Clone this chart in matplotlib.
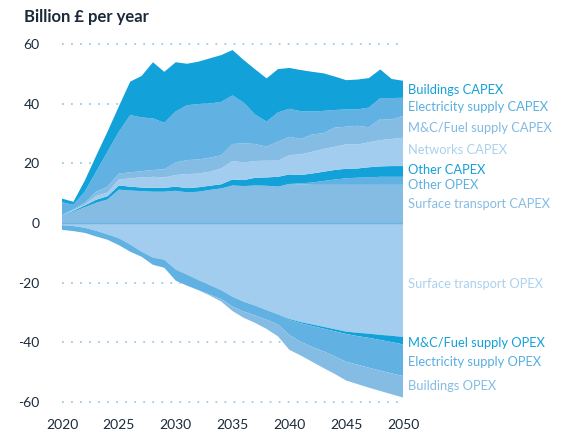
import matplotlib
matplotlib.use("Agg")
import matplotlib.pyplot as plt
import numpy as np

years = list(range(2020, 2051))

# Positive (CAPEX / some OPEX) layers, bottom to top, billion £
surface_capex = [2.7, 3.8, 5.3, 6.8, 7.9, 11.2, 10.9, 10.7, 10.5, 10.5, 10.8, 10.3, 10.5, 11.1, 11.6,
                 12.6, 12.4, 12.6, 12.5, 12.2, 13.1, 13.0, 12.8, 12.8, 12.8, 12.8, 12.8, 12.8, 12.8, 12.8, 12.8]
other_opex = [0, 0, 0, 0, 0, 0, 0, 0, 0, 0, 0, 0, 0, 0, 0,
              0, 0, 0, 0, 0, 0, 0.3, 0.8, 1.3, 1.8, 2.2, 2.4, 2.5, 2.7, 2.7, 2.7]
other_capex = [0, 0.3, 0.6, 1.0, 1.1, 1.4, 1.3, 1.2, 1.3, 1.3, 1.4, 1.4, 1.5, 1.4, 1.4,
               2.0, 2.0, 2.6, 2.8, 3.3, 3.2, 2.8, 3.0, 3.1, 3.2, 3.2, 3.1, 3.4, 3.5, 3.6, 3.6]
networks_capex = [0, 0.2, 0.3, 1.3, 1.2, 2.0, 2.8, 3.4, 3.7, 3.5, 3.9, 4.7, 4.6, 4.7, 5.3,
                  6.2, 5.9, 5.6, 5.6, 5.4, 6.5, 6.9, 7.3, 7.6, 7.8, 8.2, 8.0, 8.4, 8.8, 9.1, 9.5]
mc_fuel_capex = [0, 0.3, 0.6, 1.4, 2.0, 2.0, 2.0, 2.1, 2.3, 2.7, 4.2, 4.7, 4.7, 4.7, 4.4,
                 5.7, 6.4, 5.7, 4.7, 6.4, 6.1, 5.2, 5.8, 5.3, 6.4, 5.9, 6.3, 5.0, 7.1, 6.5, 7.3]
electricity_capex = [4.3, 1.5, 3.7, 6.7, 11.7, 14.0, 19.2, 18.0, 17.3, 15.6, 17.1, 18.4, 18.6, 18.2, 17.9,
                     16.3, 13.6, 9.8, 8.4, 9.8, 9.4, 9.3, 7.7, 7.5, 5.9, 5.8, 5.5, 6.6, 7.0, 7.2, 6.1]
buildings_capex = [1.2, 1.0, 3.7, 5.3, 6.7, 8.5, 11.2, 13.9, 18.8, 17.1, 16.5, 13.9, 14.2, 15.1, 15.7,
                   15.2, 14.3, 15.2, 14.5, 14.5, 13.7, 13.8, 13.3, 12.6, 11.2, 9.8, 10.0, 9.9, 9.6, 6.4, 5.7]

# Negative (OPEX savings) layers, top to bottom, billion £
surface_opex = [-0.7, -1.0, -1.6, -2.6, -3.8, -5.1, -7.2, -9.6, -11.6, -12.3, -15.6, -17.3, -19.1, -20.8, -22.5,
                -24.7, -26.4, -27.7, -29.2, -30.6, -32.2, -33.2, -34.0, -34.8, -35.6, -36.4, -36.8, -37.1, -37.5, -37.8, -38.2]
mc_fuel_opex = [0, 0, 0, 0, 0, 0, 0, 0, 0, 0, 0, 0, 0, 0, 0,
                0, 0, 0, 0, 0, -0.3, -0.4, -0.5, -0.6, -0.7, -0.8, -1.1, -1.4, -1.7, -2.1, -2.5]
electricity_opex = [-1.6, -1.7, -1.7, -1.9, -1.8, -2.3, -2.4, -1.7, -2.4, -2.7, -3.7, -3.7, -3.4, -3.2, -3.0,
                    -3.3, -3.3, -3.3, -3.2, -3.4, -5.0, -6.2, -7.0, -7.6, -8.4, -9.3, -9.6, -10.0, -10.3, -10.5, -10.6]
buildings_opex = [0, 0, 0, 0, 0, 0, 0, 0, 0, 0, 0, 0, 0, -0.3, -0.8,
                  -1.5, -2.1, -2.5, -3.1, -4.0, -5.0, -4.6, -5.0, -5.6, -5.9, -6.3, -6.5, -6.7, -6.8, -7.0, -7.2]

pos_labels = ["Surface transport CAPEX", "Other OPEX", "Other CAPEX", "Networks CAPEX",
              "M&C/Fuel supply CAPEX", "Electricity supply CAPEX", "Buildings CAPEX"]
neg_labels = ["Surface transport OPEX", "M&C/Fuel supply OPEX", "Electricity supply OPEX", "Buildings OPEX"]

y_ticks = [60, 40, 20, 0, -20, -40, -60]
x_ticks = [2020, 2025, 2030, 2035, 2040, 2045, 2050]

C_DARK = "#12a1d9"
C_MID = "#62b1e3"
C_ML = "#85bce4"
C_LIGHT = "#a3cdee"

pos_colors = [C_ML, C_MID, C_DARK, C_LIGHT, C_ML, C_MID, C_DARK]
neg_colors = [C_LIGHT, C_DARK, C_MID, C_ML]

label_colors_pos = ["#85bce3", "#5fb0e2", "#14a0d9", "#aad1ef", "#80bae3", "#5aaee0", "#14a0d9"]
label_colors_neg = ["#aad1ef", "#14a0d9", "#5aaee0", "#85bce3"]
pos_label_y = [6.4, 12.7, 17.8, 24.5, 31.8, 38.9, 44.6]
neg_label_y = [-20.4, -40.2, -46.6, -54.6]

plt.rcParams['font.family'] = ['Lato', 'DejaVu Sans']
plt.rcParams['axes.unicode_minus'] = False

fig = plt.figure(figsize=(5.84, 4.33), dpi=100)
ax = fig.add_axes([0.1062, 0.0509, 0.5839, 0.868])
ax.set_xlim(2020, 2050)
ax.set_ylim(-63, 63)

for v in [60, 40, 20, -20, -40, -60]:
    ax.axhline(v, color="#9ccbee", lw=1.3, linestyle=(0, (1, 4)), zorder=0)

ax.stackplot(years, surface_capex, other_opex, other_capex, networks_capex, mc_fuel_capex,
             electricity_capex, buildings_capex, colors=pos_colors, linewidth=0, zorder=2)
ax.stackplot(years, surface_opex, mc_fuel_opex, electricity_opex, buildings_opex,
             colors=neg_colors, linewidth=0, zorder=2)
ax.axhline(0, color="#6cb3e3", lw=1.0, zorder=3)

for s in ax.spines.values():
    s.set_visible(False)
ax.tick_params(length=0, labelsize=10, labelcolor="#1b2a3a", pad=16)
ax.set_yticks(y_ticks)
ax.set_yticklabels([str(v) for v in y_ticks])
ax.set_xticks(x_ticks)
ax.set_xticklabels([str(v) for v in x_ticks])
ax.tick_params(axis='x', pad=6)

for lab, yv, col in zip(pos_labels, pos_label_y, label_colors_pos):
    ax.text(2050.45, yv, lab, color=col, fontsize=9.3, va="center", ha="left", clip_on=False)
for lab, yv, col in zip(neg_labels, neg_label_y, label_colors_neg):
    ax.text(2050.45, yv, lab, color=col, fontsize=9.3, va="center", ha="left", clip_on=False)

fig.text(24 / 584, 1 - 17 / 433, "Billion £ per year", fontsize=12, fontweight="bold",
         color="#1b2a3a", va="center", ha="left")

fig.savefig("out.png", dpi=100)
